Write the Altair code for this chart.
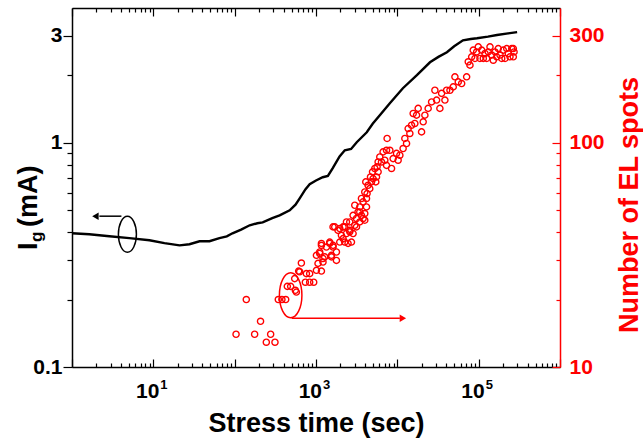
import altair as alt
import pandas as pd

# ---- Gate current I_g (mA) versus stress time (s) ----
ig_time = [1.0, 1.63, 2.88, 5.08, 8.96, 13.7, 21, 27.8, 37, 49, 65, 80, 94, 120, 153,
           190, 221, 290, 357, 475, 560, 630, 740, 836, 1000, 1210, 1400, 1607, 1950,
           2259, 2700, 3170, 4210, 5000, 6090, 8090, 11700, 17400, 25200, 32000, 40700,
           50000, 64100, 80000, 95300, 130000, 168000, 230000, 297000]
ig_current = [0.395, 0.391, 0.383, 0.376, 0.368, 0.357, 0.349, 0.353, 0.364, 0.364,
              0.376, 0.383, 0.395, 0.410, 0.429, 0.438, 0.442, 0.462, 0.475, 0.500,
              0.530, 0.566, 0.620, 0.654, 0.680, 0.703, 0.712, 0.771, 0.870, 0.927,
              0.940, 1.007, 1.116, 1.220, 1.330, 1.503, 1.754, 2.005, 2.29, 2.42, 2.54,
              2.70, 2.87, 2.91, 2.93, 2.98, 3.03, 3.08, 3.12]

# ---- Number of EL spots versus stress time (s) ----
el_time = [104, 139, 176, 208, 245, 277, 313, 344, 381, 424, 444, 488, 547, 557, 574,
           612, 630, 661, 740, 762, 836, 836, 937, 1012, 1012, 1059, 1111, 1111, 1166,
           1166, 1166, 1219, 1219, 1280, 1343, 1475, 1475, 1549, 1549, 1620, 1620, 1620,
           1700, 1783, 1783, 1866, 1959, 1959, 2054, 2152, 2152, 2256, 2256, 2368, 2368,
           2478, 2601, 2601, 2601, 2729, 2857, 2857, 2998, 2998, 3146, 3146, 3289, 3454,
           3454, 3454, 3622, 3622, 3793, 3793, 3979, 3979, 3979, 4093, 4178, 4178, 4246,
           4369, 4583, 4677, 4810, 4955, 5035, 5284, 5433, 5546, 5636, 5805, 5805, 6085,
           6383, 6686, 7015, 7364, 7364, 7488, 8090, 8487, 8875, 9772, 10230, 10740,
           11780, 12370, 12980, 13590, 14250, 14960, 15660, 16410, 17230, 18040, 19860,
           20790, 21810, 23930, 26380, 28960, 30400, 33360, 35000, 38460, 40360, 44360,
           48660, 51050, 56100, 61760, 71140, 74470, 78160, 82040, 85740, 90000, 94450,
           98900, 103700, 108900, 114000, 119600, 125500, 131300, 137800, 144600, 151300,
           158800, 166600, 174200, 182900, 192000, 201000, 210900, 221300, 231400, 242800,
           254900, 266700, 266700, 272300]
el_count = [14.0, 20.0, 14.0, 16.0, 12.9, 14.0, 12.9, 20.0, 20.0, 20.0, 22.9, 22.9, 24.8,
            22.0, 21.6, 26.8, 26.6, 29.1, 23.9, 26.1, 23.9, 26.1, 23.9, 27.0, 31.5, 29.0,
            32.1, 32.6, 26.8, 35.6, 34.9, 29.4, 30.5, 31.0, 34.3, 35.6, 36.1, 31.0, 31.5,
            34.3, 42.2, 34.9, 42.2, 32.6, 29.9, 40.7, 36.1, 41.5, 38.7, 42.2, 37.4, 36.1,
            42.2, 44.4, 39.4, 35.6, 40.7, 40.1, 44.4, 36.1, 39.4, 47.5, 52.7, 42.9, 42.2,
            46.0, 49.2, 44.4, 49.2, 51.8, 47.5, 56.5, 46.0, 54.6, 48.4, 45.2, 60.4, 67.0,
            51.8, 56.5, 59.4, 64.7, 62.5, 70.5, 67.0, 74.3, 69.3, 76.9, 67.0, 70.5, 78.2,
            74.3, 82.2, 86.6, 82.2, 91.2, 83.7, 92.7, 79.4, 104.7, 92.7, 76.9, 85.1, 89.8,
            83.7, 88.1, 94.4, 104.7, 99.4, 115.9, 110.2, 119.9, 135.3, 122.1, 133.0, 142.6,
            112.0, 124.2, 133.0, 142.6, 152.4, 171.8, 155.3, 142.6, 166.4, 155.3, 171.8,
            171.8, 177.8, 197.2, 187.2, 184.1, 197.2, 230.2, 222.4, 242.2, 259.4, 238.2,
            254.7, 268.3, 238.2, 259.4, 238.2, 250.6, 238.2, 254.7, 268.3, 246.7, 233.9,
            254.7, 242.2, 263.6, 246.7, 238.2, 259.4, 238.2, 263.6, 250.6, 242.2, 263.6,
            242.2, 263.6, 254.7]

# ---- annotation anchors (data units) ----
ig_marker_time = [4.8]
ig_marker_value = [0.391]
ig_arrow_from = [4.05]
ig_arrow_to = [2.17]
ig_arrow_head = [1.94]
ig_arrow_level = [0.471]

el_marker_time = [488]
el_marker_value = [20.9]
el_arrow_from = [502]
el_arrow_to = [10740]
el_arrow_head = [11700]
el_arrow_level = [16.5]

# ---- tick values and labels ----
x_major_ticks = [1, 10, 100, 1000, 10000, 100000, 1000000]
x_minor_ticks = [k * 10 ** e for e in range(0, 6) for k in range(2, 10)]
x_label_values = [10, 1000, 100000]
x_label_base = ["10", "10", "10"]
x_label_exponent = ["1", "3", "5"]
left_major_ticks = [0.1, 1, 3]
left_minor_ticks = [0.2, 0.3, 0.4, 0.5, 0.6, 0.7, 0.8, 0.9, 2]
right_major_ticks = [10, 100, 300]
right_minor_ticks = [20, 30, 40, 50, 60, 70, 80, 90, 200]

RED = "#ff0000"
FONT = "Liberation Sans"
ELLIPSE = "M0,-1A0.5,1,0,1,1,0,1A0.5,1,0,1,1,0,-1Z"
H = 359

ig_df = pd.DataFrame({"t": ig_time, "ig": ig_current})
el_df = pd.DataFrame({"t": el_time, "n": el_count})
xlab_df = pd.DataFrame({"t": x_label_values, "base": x_label_base, "exp": x_label_exponent})
ig_ann = pd.DataFrame({"t": ig_marker_time, "v": ig_marker_value, "a1": ig_arrow_from,
                       "a2": ig_arrow_to, "ah": ig_arrow_head, "lv": ig_arrow_level})
el_ann = pd.DataFrame({"t": el_marker_time, "v": el_marker_value, "a1": el_arrow_from,
                       "a2": el_arrow_to, "ah": el_arrow_head, "lv": el_arrow_level})

x_scale = alt.Scale(type="log", domain=[1, 1000000], nice=False)
yl_scale = alt.Scale(type="log", domain=[0.1, 4], nice=False)
yr_scale = alt.Scale(type="log", domain=[10, 400], nice=False)

common = dict(grid=False, title=None, tickWidth=1.2, domainWidth=1.5)

x_bottom_major = alt.Axis(
    orient="bottom", values=x_major_ticks, labels=False,
    tickSize={"expr": "-8"}, tickColor="black", domainColor="black",
    grid=False, tickWidth=1.2, domainWidth=1.5,
    title="Stress time (sec)", titleFont=FONT, titleFontSize=27,
    titleFontWeight="bold", titleColor="black", titlePadding=43)
x_bottom_minor = alt.Axis(orient="bottom", values=x_minor_ticks, labels=False, domain=False,
                          tickSize={"expr": "-4"}, tickColor="black", **common)
x_top_major = alt.Axis(orient="top", values=x_major_ticks, labels=False,
                       tickSize={"expr": "-8"}, tickColor="black", domainColor="black", **common)
x_top_minor = alt.Axis(orient="top", values=x_minor_ticks, labels=False, domain=False,
                       tickSize={"expr": "-4"}, tickColor="black", **common)

y_left_major = alt.Axis(
    orient="left", values=left_major_ticks,
    labelExpr="datum.value == 0.1 ? '0.1' : format(datum.value, 'd')",
    tickSize=9, tickColor="black", domainColor="black",
    labelFont=FONT, labelFontSize=21, labelFontWeight="bold", labelColor="black",
    labelPadding=1, labelOverlap=False, labelFlush=False, **common)
y_left_minor = alt.Axis(orient="left", values=left_minor_ticks, labels=False, domain=False,
                        tickSize=5, tickColor="black", **common)

y_right_major = alt.Axis(
    orient="right", values=right_major_ticks, format="d",
    tickSize={"expr": "-8"}, tickColor=RED, domainColor=RED,
    labelFont=FONT, labelFontSize=21, labelFontWeight="bold", labelColor=RED,
    labelPadding=17, labelOverlap=False, labelFlush=False, **common)
y_right_minor = alt.Axis(orient="right", values=right_minor_ticks, labels=False, domain=False,
                         tickSize={"expr": "-4"}, tickColor=RED, **common)

# ---- left group: I_g ----
ig_line = alt.Chart(ig_df).mark_line(color="black", strokeWidth=2.4).encode(
    x=alt.X("t:Q", scale=x_scale, axis=x_bottom_major),
    y=alt.Y("ig:Q", scale=yl_scale, axis=y_left_major),
)
ig_ell = alt.Chart(ig_ann).mark_point(shape=ELLIPSE, size=1296, filled=False,
                                      color="black", strokeWidth=1.5, opacity=1).encode(
    x=alt.X("t:Q", scale=x_scale, axis=x_bottom_minor),
    y=alt.Y("v:Q", scale=yl_scale, axis=y_left_minor),
)
ig_arrow = alt.Chart(ig_ann).mark_rule(color="black", strokeWidth=1.5).encode(
    x=alt.X("a1:Q", scale=x_scale, axis=x_top_major), x2="a2:Q",
    y=alt.Y("lv:Q", scale=yl_scale, axis=None),
)
ig_head = alt.Chart(ig_ann).mark_point(shape="triangle-left", size=55, filled=True,
                                       color="black", opacity=1).encode(
    x=alt.X("ah:Q", scale=x_scale, axis=x_top_minor),
    y=alt.Y("lv:Q", scale=yl_scale, axis=None),
)
xlab_base = alt.Chart(xlab_df).mark_text(align="right", baseline="alphabetic", dx=6,
                                         font=FONT, fontSize=21, fontWeight="bold",
                                         color="black").encode(
    x=alt.X("t:Q", scale=x_scale, axis=None), y=alt.value(H + 31), text="base:N")
xlab_exp = alt.Chart(xlab_df).mark_text(align="left", baseline="alphabetic", dx=7,
                                        font=FONT, fontSize=13, fontWeight="bold",
                                        color="black").encode(
    x=alt.X("t:Q", scale=x_scale, axis=None), y=alt.value(H + 22), text="exp:N")
left_title_i = alt.Chart(ig_ann).mark_text(text="I", angle=270, align="left", baseline="alphabetic",
                                           font=FONT, fontSize=27, fontWeight="bold", color="black").encode(
    x=alt.value(-35), y=alt.value(242))
left_title_g = alt.Chart(ig_ann).mark_text(text="g", angle=270, align="left", baseline="alphabetic",
                                           font=FONT, fontSize=17, fontWeight="bold", color="black").encode(
    x=alt.value(-30), y=alt.value(234))
left_title_ma = alt.Chart(ig_ann).mark_text(text="(mA)", angle=270, align="left", baseline="alphabetic",
                                            font=FONT, fontSize=27, fontWeight="bold", color="black").encode(
    x=alt.value(-35), y=alt.value(219))

left = alt.layer(ig_line, ig_ell, ig_arrow, ig_head, xlab_base, xlab_exp, left_title_i,
                 left_title_g, left_title_ma).resolve_axis(x="independent", y="independent")

# ---- right group: EL spots ----
el_pts = alt.Chart(el_df).mark_point(shape="circle", size=38, filled=False, color=RED,
                                     strokeWidth=1.4, opacity=1).encode(
    x=alt.X("t:Q", scale=x_scale, axis=None),
    y=alt.Y("n:Q", scale=yr_scale, axis=y_right_major),
)
el_ell = alt.Chart(el_ann).mark_point(shape=ELLIPSE, size=2025, filled=False,
                                      color=RED, strokeWidth=1.5, opacity=1).encode(
    x=alt.X("t:Q", scale=x_scale, axis=None),
    y=alt.Y("v:Q", scale=yr_scale, axis=y_right_minor),
)
el_arrow = alt.Chart(el_ann).mark_rule(color=RED, strokeWidth=1.5).encode(
    x=alt.X("a1:Q", scale=x_scale, axis=None), x2="a2:Q",
    y=alt.Y("lv:Q", scale=yr_scale, axis=None),
)
el_head = alt.Chart(el_ann).mark_point(shape="triangle-right", size=55, filled=True,
                                       color=RED, opacity=1).encode(
    x=alt.X("ah:Q", scale=x_scale, axis=None),
    y=alt.Y("lv:Q", scale=yr_scale, axis=None),
)
right_title = alt.Chart(el_ann).mark_text(text="Number of EL spots", angle=270, align="center",
                                          baseline="alphabetic", font=FONT, fontSize=27,
                                          fontWeight="bold", color=RED).encode(
    x=alt.value(566), y=alt.value(197))

right = alt.layer(el_pts, el_ell, el_arrow, el_head, right_title).resolve_axis(y="independent")

chart = alt.layer(left, right).resolve_scale(y="independent").resolve_axis(
    x="independent", y="independent"
).properties(
    width=488, height=H,
    autosize=alt.AutoSizeParams(type="none"),
    padding={"left": 72, "top": 8, "right": 83, "bottom": 77},
).configure_view(strokeWidth=0).configure(background="white")

chart.save("out.html", embed_options={"renderer": "svg", "actions": False})
